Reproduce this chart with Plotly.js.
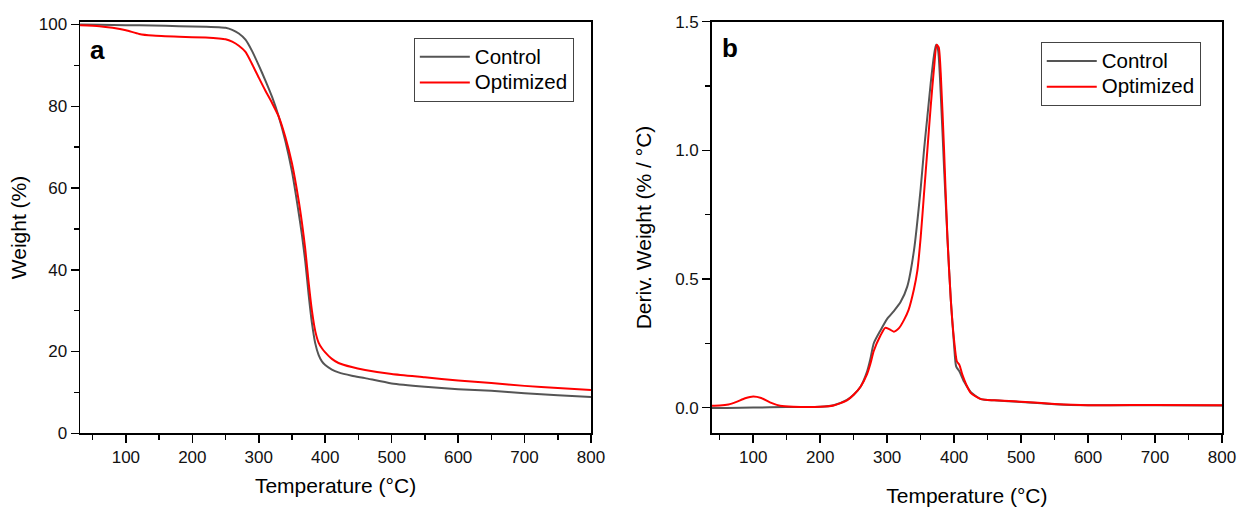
<!DOCTYPE html>
<html>
<head>
<meta charset="utf-8">
<script src="https://cdn.plot.ly/plotly-3.0.1.min.js"></script>
<style>html,body{margin:0;padding:0;background:#fff;}#chart{width:1239px;height:510px;}</style>
</head>
<body>
<div id="chart"></div>
<script>
// ---- Panel a: TGA weight (%) ----
const tempControlA = [31, 60, 100, 140, 180, 220, 240, 250, 260, 270, 280, 290, 300, 310, 320, 330, 340, 350, 360, 365, 370, 375, 380, 385, 390, 395, 400, 410, 420, 440, 460, 500, 550, 600, 650, 700, 750, 800];
const weightControl = [100, 99.95, 99.85, 99.75, 99.6, 99.45, 99.35, 99.2, 98.7, 97.8, 96.3, 93.5, 90.0, 86.3, 82.3, 77.5, 71.5, 64.0, 54.0, 48.5, 42.0, 34.0, 27.0, 22.0, 19.2, 17.6, 16.7, 15.6, 14.9, 14.1, 13.5, 12.2, 11.4, 10.8, 10.4, 9.8, 9.3, 8.9];

const tempOptimizedA = [31, 60, 80, 100, 120, 140, 180, 220, 240, 250, 260, 270, 280, 290, 300, 310, 320, 330, 340, 350, 360, 365, 370, 375, 380, 385, 390, 395, 400, 410, 420, 440, 460, 500, 550, 600, 650, 700, 750, 800];
const weightOptimized = [99.8, 99.6, 99.2, 98.6, 97.7, 97.3, 97.0, 96.8, 96.6, 96.4, 95.8, 94.8, 93.3, 90.3, 87.0, 83.8, 80.8, 77.5, 72.5, 66.0, 57.0, 51.5, 45.0, 37.0, 30.0, 25.0, 22.2, 20.8, 19.8, 18.2, 17.2, 16.2, 15.5, 14.5, 13.7, 12.9, 12.3, 11.6, 11.1, 10.6];

// ---- Panel b: DTG deriv. weight (% / °C) ----
const tempControlB = [38, 60, 100, 150, 200, 220, 240, 250, 260, 270, 275, 280, 290, 300, 310, 320, 330, 340, 350, 355, 360, 365, 370, 373, 376, 380, 385, 390, 395, 400, 403, 408, 415, 425, 440, 460, 500, 550, 600, 700, 800];
const derivControl = [-0.002, -0.002, 0.0, 0.002, 0.003, 0.009, 0.03, 0.05, 0.08, 0.14, 0.19, 0.25, 0.30, 0.345, 0.375, 0.41, 0.47, 0.61, 0.85, 1.0, 1.13, 1.26, 1.37, 1.41, 1.39, 1.22, 0.93, 0.66, 0.42, 0.24, 0.16, 0.14, 0.10, 0.06, 0.033, 0.028, 0.022, 0.013, 0.009, 0.009, 0.008];

const tempOptimizedB = [38, 50, 63, 75, 88, 100, 112, 125, 140, 160, 200, 220, 240, 250, 260, 270, 275, 280, 290, 297, 303, 310, 318, 325, 332, 340, 345, 350, 355, 360, 365, 370, 374, 377, 380, 385, 390, 395, 400, 404, 408, 412, 418, 425, 440, 460, 500, 550, 600, 700, 800];
const derivOptimized = [0.007, 0.008, 0.012, 0.022, 0.036, 0.043, 0.037, 0.02, 0.007, 0.003, 0.003, 0.008, 0.028, 0.05, 0.08, 0.13, 0.17, 0.22, 0.28, 0.31, 0.305, 0.295, 0.31, 0.34, 0.38, 0.46, 0.53, 0.66, 0.83, 1.0, 1.17, 1.32, 1.41, 1.40, 1.3, 1.0, 0.66, 0.42, 0.26, 0.18, 0.165, 0.13, 0.09, 0.056, 0.033, 0.028, 0.023, 0.014, 0.009, 0.01, 0.009];

const seriesNames = ['Control', 'Optimized'];
const panelLabels = ['a', 'b'];

const FONT = 'Arial, "Liberation Sans", sans-serif';
const GRAY = '#555555';
const RED = '#ff0000';

// legend entries: larger glyphs inside a tighter legend row
function legendName(s) { return '<span style="font-size:20.5px">' + s + '</span>'; }

const traces = [
  {x: tempControlA, y: weightControl, name: legendName(seriesNames[0]), type: 'scatter', mode: 'lines',
   line: {color: GRAY, width: 2, shape: 'spline', smoothing: 0.6}, xaxis: 'x', yaxis: 'y', legend: 'legend'},
  {x: tempOptimizedA, y: weightOptimized, name: legendName(seriesNames[1]), type: 'scatter', mode: 'lines',
   line: {color: RED, width: 2, shape: 'spline', smoothing: 0.6}, xaxis: 'x', yaxis: 'y', legend: 'legend'},
  {x: tempControlB, y: derivControl, name: legendName(seriesNames[0]), type: 'scatter', mode: 'lines',
   line: {color: GRAY, width: 2, shape: 'spline', smoothing: 0.6}, xaxis: 'x2', yaxis: 'y2', legend: 'legend2'},
  {x: tempOptimizedB, y: derivOptimized, name: legendName(seriesNames[1]), type: 'scatter', mode: 'lines',
   line: {color: RED, width: 2, shape: 'spline', smoothing: 0.6}, xaxis: 'x2', yaxis: 'y2', legend: 'legend2'}
];

function axisBase() {
  return {
    showline: true, linecolor: '#000', linewidth: 1.5, mirror: true,
    ticks: 'outside', ticklen: 8, tickwidth: 1.5, tickcolor: '#000',
    showgrid: false, zeroline: false,
    tickfont: {family: FONT, size: 17, color: '#111'},
    automargin: false
  };
}

const yDomain = [0.1504, 0.9575];

function legendBox(x, y) {
  return {
    x: x, y: y, xanchor: 'left', yanchor: 'top',
    bordercolor: '#444', borderwidth: 1, bgcolor: '#fff',
    font: {family: FONT, size: 17.5, color: '#000'}, itemwidth: 50, tracegroupgap: 0
  };
}

const layout = {
  width: 1239, height: 510,
  margin: {l: 0, r: 0, t: 0, b: 0},
  paper_bgcolor: '#fff', plot_bgcolor: '#fff',
  font: {family: FONT, color: '#000'},
  xaxis: Object.assign(axisBase(), {
    domain: [0.0646, 0.4770], range: [31, 800], anchor: 'y',
    tick0: 0, dtick: 100,
    minor: {ticks: 'outside', ticklen: 5, tickwidth: 1.5, tickcolor: '#000', tick0: 0, dtick: 50, showgrid: false},
    title: {text: 'Temperature (°C)', font: {family: FONT, size: 21}, standoff: 12}
  }),
  yaxis: Object.assign(axisBase(), {
    domain: yDomain, range: [0, 100.7], anchor: 'x',
    tick0: 0, dtick: 20,
    minor: {ticks: 'outside', ticklen: 5, tickwidth: 1.5, tickcolor: '#000', tick0: 0, dtick: 10, showgrid: false},
    title: {text: 'Weight (%)', font: {family: FONT, size: 21}, standoff: 6}
  }),
  xaxis2: Object.assign(axisBase(), {
    domain: [0.5744, 0.9863], range: [38, 800], anchor: 'y2',
    tick0: 0, dtick: 100,
    minor: {ticks: 'outside', ticklen: 5, tickwidth: 1.5, tickcolor: '#000', tick0: 0, dtick: 50, showgrid: false},
    title: {text: 'Temperature (°C)', font: {family: FONT, size: 21}, standoff: 22}
  }),
  yaxis2: Object.assign(axisBase(), {
    domain: yDomain, range: [-0.1, 1.5], anchor: 'x2',
    tick0: 0, dtick: 0.5, tickformat: '.1f',
    minor: {ticks: 'outside', ticklen: 5, tickwidth: 1.5, tickcolor: '#000', tick0: 0, dtick: 0.25, showgrid: false},
    title: {text: 'Deriv. Weight (% / °C)', font: {family: FONT, size: 21}, standoff: 18}
  }),
  legend: legendBox(0.334, 0.9255),
  legend2: legendBox(0.840, 0.9176),
  annotations: [
    {text: '<b>' + panelLabels[0] + '</b>', xref: 'paper', yref: 'paper', x: 0.0783, y: 0.902,
     xanchor: 'center', yanchor: 'middle', showarrow: false, font: {family: FONT, size: 26, color: '#000'}},
    {text: '<b>' + panelLabels[1] + '</b>', xref: 'paper', yref: 'paper', x: 0.589, y: 0.906,
     xanchor: 'center', yanchor: 'middle', showarrow: false, font: {family: FONT, size: 26, color: '#000'}}
  ]
};

Plotly.newPlot('chart', traces, layout, {displayModeBar: false, staticPlot: true});
</script>
</body>
</html>
